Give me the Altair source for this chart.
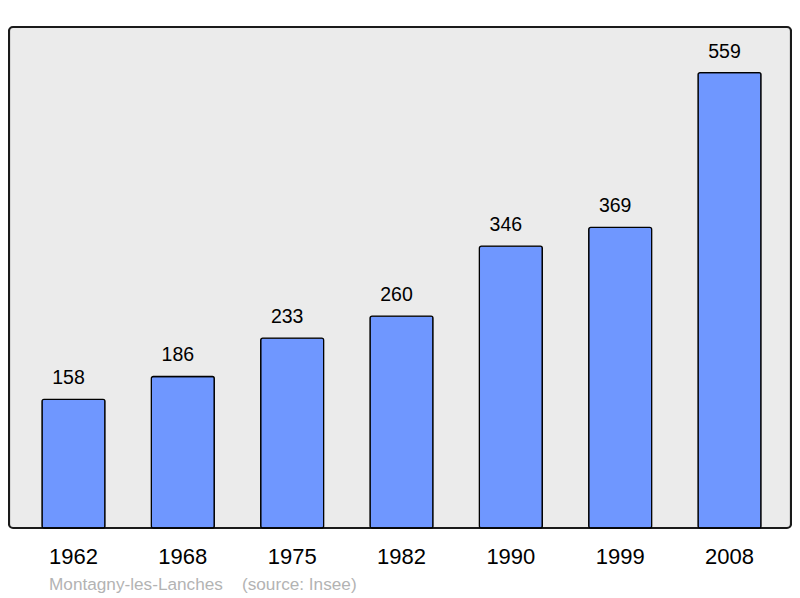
import altair as alt
import pandas as pd

years = ["1962", "1968", "1975", "1982", "1990", "1999", "2008"]
population = [158, 186, 233, 260, 346, 369, 559]

df = pd.DataFrame({"year": years, "pop": population})

base = alt.Chart(df).encode(
    x=alt.X("year:N", sort=None,
            scale=alt.Scale(paddingInner=0.424, paddingOuter=0.288, align=0.524),
            axis=alt.Axis(title=None, labelAngle=0, labelFontSize=22, labelColor="black",
                          labelFont="Liberation Sans", labelPadding=18.5, ticks=False,
                          domain=False)),
    y=alt.Y("pop:Q", scale=alt.Scale(domain=[0, 615], nice=False),
            axis=None),
)

bars = base.mark_bar(color="#6f97ff", stroke="black", strokeWidth=1.3, cornerRadius=2)
labels = base.mark_text(baseline="alphabetic", dy=-15, dx=-5, fontSize=19.5, font="Liberation Sans",
                        color="black").encode(text="pop:Q")

chart = (bars + labels).properties(
    width=782, height=501,
    padding={"left": 1, "top": 19, "right": 1, "bottom": 5},
    title=alt.TitleParams("Montagny-les-Lanches\u00a0\u00a0\u00a0\u00a0(source: Insee)", orient="bottom",
                          anchor="start", dx=40, offset=8, fontSize=17.2,
                          font="Liberation Sans", fontWeight="normal", color="#b3b3b3"),
).configure_view(
    fill="#ebebeb", stroke="#1a1a1a", strokeWidth=2.2, cornerRadius=4
)

chart.save("out.html", embed_options={"renderer": "svg", "actions": False})
